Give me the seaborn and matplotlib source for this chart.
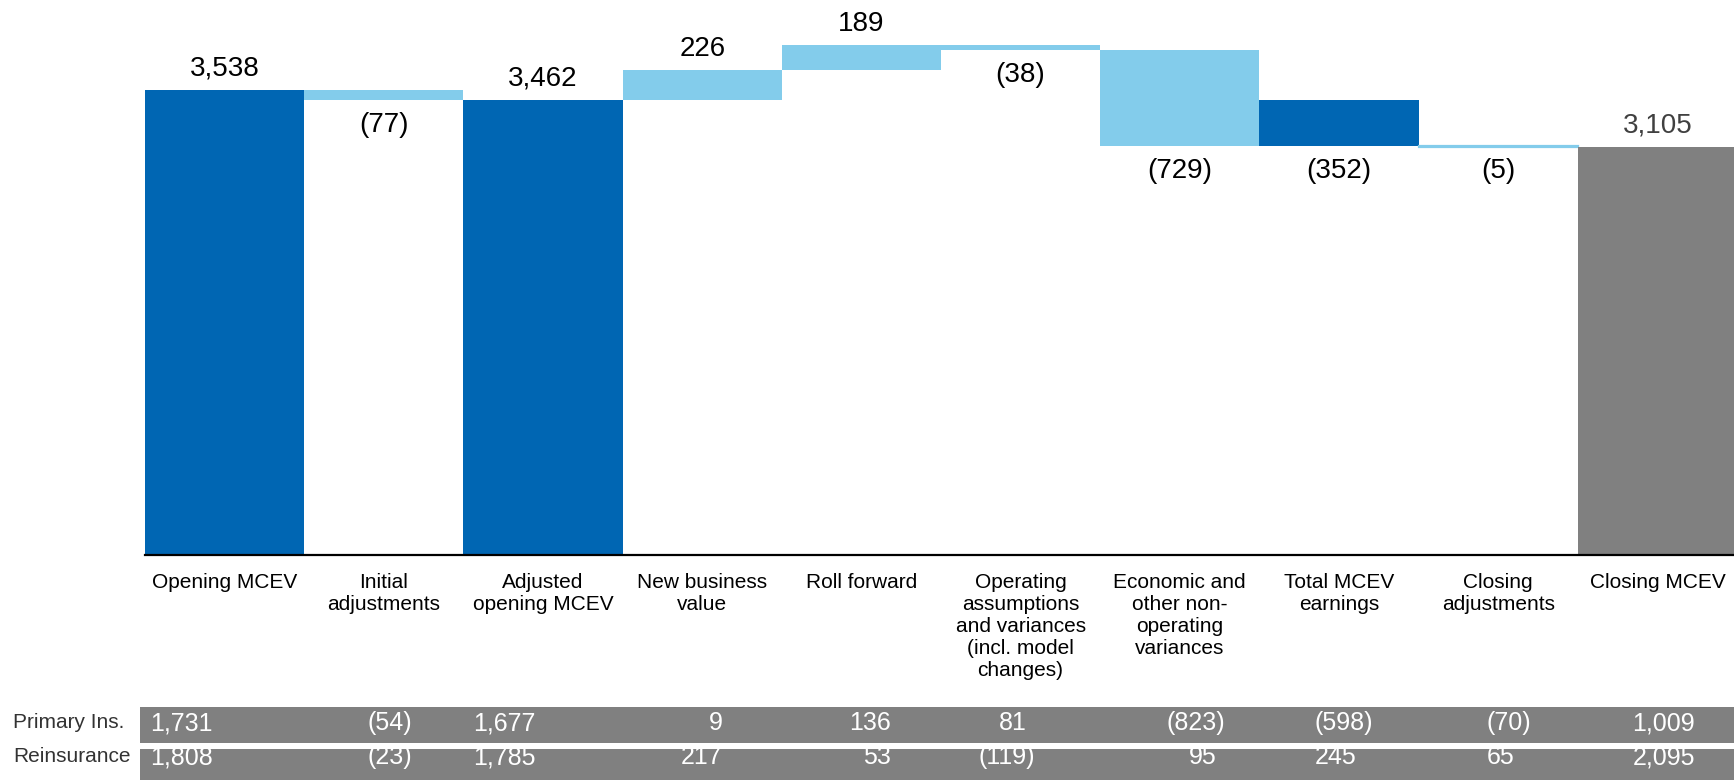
import numpy as np
import pandas as pd
import matplotlib
matplotlib.use("Agg")
import matplotlib.pyplot as plt
import seaborn as sns

# ---------------- data ----------------
categories = ["Opening MCEV", "Initial\nadjustments", "Adjusted\nopening MCEV",
              "New business\nvalue", "Roll forward",
              "Operating\nassumptions\nand variances\n(incl. model\nchanges)",
              "Economic and\nother non-\noperating\nvariances",
              "Total MCEV\nearnings", "Closing\nadjustments", "Closing MCEV"]
values = [3538, -77, 3462, 226, 189, -38, -729, -352, -5, 3105]
kinds = ["total", "delta", "total", "delta", "delta", "delta", "delta", "sum", "delta", "total"]
row_labels = ["Primary Ins.", "Reinsurance"]
primary_ins = [1731, -54, 1677, 9, 136, 81, -823, -598, -70, 1009]
reinsurance = [1808, -23, 1785, 217, 53, -119, 95, 245, 65, 2095]

# ---------------- style ----------------
DARK = "#0066B3"
LIGHT = "#83CCEB"
GREY = "#808080"
bar_colors = [DARK, LIGHT, DARK, LIGHT, LIGHT, LIGHT, LIGHT, DARK, LIGHT, GREY]
label_colors = ["black"] * 9 + ["#404040"]
# table text anchors: (offset from category centre, alignment)
col_anchor = [(-0.469, "left"), (0.18, "right"), (-0.442, "left"), (0.181, "right"),
              (0.238, "right"), (0.088, "right"), (0.282, "right"), (-0.154, "left"),
              (-0.071, "left"), (0.288, "right")]

sns.set_style("white")
plt.rcParams["font.family"] = ["Liberation Sans", "DejaVu Sans"]

# waterfall geometry from the values
bottoms, heights = [], []
level = 0
last_total = 0
for v, k in zip(values, kinds):
    if k == "total":
        lo, hi = 0, v
        level = v
        last_total = v
    elif k == "delta":
        lo, hi = min(level, level + v), max(level, level + v)
        level = level + v
    else:  # sum of deltas since last total
        lo, hi = min(last_total, last_total + v), max(last_total, last_total + v)
    bottoms.append(lo)
    heights.append(hi - lo)

df = pd.DataFrame({"cat": categories, "height": heights})

W, H = 1734, 780
AX_W = 1592
fig = plt.figure(figsize=(W / 100, H / 100), dpi=100)
ax = fig.add_axes([145 / W, 1 - 555 / H, AX_W / W, 555 / H])

sns.barplot(data=df, x="cat", y="height", order=categories, width=1.0,
            bottom=np.array(bottoms), color=DARK, linewidth=0, ax=ax)
for p, c in zip(ax.patches, bar_colors):
    p.set_facecolor(c)
    p.set_edgecolor(c)
# thin closing-adjustment bar drawn with a visible edge like the original
ax.patches[8].set_linewidth(1.6)

ax.set_xlim(-0.5, 9.5)
ax.set_ylim(0, 4219)
ax.set_xlabel("")
ax.set_ylabel("")
ax.set_yticks([])
for s in ["left", "top", "right"]:
    ax.spines[s].set_visible(False)
ax.spines["bottom"].set_color("black")
ax.spines["bottom"].set_linewidth(1.6)
ax.spines["bottom"].set_zorder(3)

ax.set_xticks(range(len(categories)))
ax.set_xticklabels(categories, fontsize=15, linespacing=1.2, color="black")
ax.tick_params(axis="x", which="major", length=0, pad=13)
ax.set_xticks(np.arange(-0.5, 9.0, 1.0), minor=True)
ax.tick_params(axis="x", which="minor", length=5, width=1.5, color="black", direction="out")

# value labels
for i, (v, k) in enumerate(zip(values, kinds)):
    lo, hi = bottoms[i], bottoms[i] + heights[i]
    txt = f"{abs(v):,}" if v >= 0 else f"({abs(v):,})"
    if v >= 0:
        ax.annotate(txt, (i, hi), xytext=(0, 5.5), textcoords="offset points",
                    ha="center", va="bottom", fontsize=20, color=label_colors[i])
    else:
        ax.annotate(txt, (i, lo), xytext=(0, -8.5), textcoords="offset points",
                    ha="center", va="top", fontsize=20, color=label_colors[i])

# ---------------- table below ----------------
axt = fig.add_axes([145 / W, 0, AX_W / W, 80 / H])
axt.set_xlim(-0.5, 9.5)
axt.set_ylim(780, 700)
axt.axis("off")
band_left = -0.5 - 5 / 159.2
rows = [(primary_ins, 707, 743, 723), (reinsurance, 749, 781, 757)]
for vals, y0, y1, yt in rows:
    axt.barh(y=(y0 + y1) / 2, width=9.5 - band_left, left=band_left, height=y1 - y0,
             color=GREY, linewidth=0, clip_on=False)
    for i, v in enumerate(vals):
        off, ha = col_anchor[i]
        txt = f"{abs(v):,}" if v >= 0 else f"({abs(v):,})"
        dx = -0.333 * 18 if (v >= 0 and ha == "right") else 0
        axt.annotate(txt, (i + off, yt), xytext=(dx, 0), textcoords="offset points",
                     ha=ha, va="center", fontsize=18, color="white", annotation_clip=False)

for lab, (_, y0, y1, yt) in zip(row_labels, rows):
    fig.text(13 / W, 1 - yt / H, lab, ha="left", va="center", fontsize=15, color="#333333")

fig.savefig("out.png", dpi=100)
